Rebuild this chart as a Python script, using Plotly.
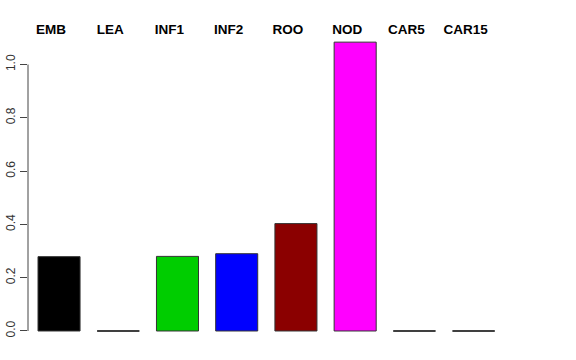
import plotly.graph_objects as go

categories = ["EMB", "LEA", "INF1", "INF2", "ROO", "NOD", "CAR5", "CAR15"]
values = [0.279, 0.0, 0.280, 0.290, 0.403, 1.084, 0.0, 0.0]
colors = ["#000000", "#FF0000", "#00CD00", "#0000FF", "#8B0000", "#FF00FF", "#00CDCD", "#CDCD00"]
y_ticks = [0.0, 0.2, 0.4, 0.6, 0.8, 1.0]

bar_width = 0.71
label_shift = -0.135
xs = list(range(len(categories)))

fig = go.Figure()
fig.add_trace(go.Bar(
    x=xs, y=values, width=bar_width,
    marker=dict(color=colors, line=dict(color="#333333", width=1)),
    showlegend=False, hoverinfo="skip",
))

# zero-height bars collapse to a line in the reference
zx, zy = [], []
for i, v in enumerate(values):
    if v == 0:
        zx += [i - bar_width / 2, i + bar_width / 2, None]
        zy += [v, v, None]
fig.add_trace(go.Scatter(x=zx, y=zy, mode="lines",
                         line=dict(color="#333333", width=1.5),
                         showlegend=False, hoverinfo="skip"))

# R-style axis line spanning only the tick range
fig.add_shape(type="line", xref="paper", yref="y", x0=0, x1=0,
              y0=y_ticks[0], y1=y_ticks[-1], line=dict(color="#444444", width=1))

fig.update_layout(
    width=576, height=360,
    margin=dict(l=28, r=71, t=40, b=20),
    plot_bgcolor="white", paper_bgcolor="white",
    font=dict(family="Liberation Sans, Arial, sans-serif", color="black"),
    xaxis=dict(
        range=[-0.524, 7.53], side="top", automargin=False,
        tickvals=[i + label_shift for i in xs],
        ticktext=["<b>%s</b>" % c for c in categories],
        tickfont=dict(size=13.5, color="black"), ticklabelstandoff=2,
        showgrid=False, zeroline=False, showline=False, ticks="",
    ),
    yaxis=dict(
        range=[-0.0338, 1.092], automargin=False,
        tickvals=y_ticks, ticktext=["%.1f" % t for t in y_ticks],
        tickangle=-90, tickfont=dict(size=12, color="#333333"),
        ticks="outside", ticklen=7, tickcolor="#444444", tickwidth=1,
        showgrid=False, zeroline=False, showline=False,
    ),
)

fig.write_html("out.html", config={"displayModeBar": False},
               post_script="document.body.style.margin='0';")
